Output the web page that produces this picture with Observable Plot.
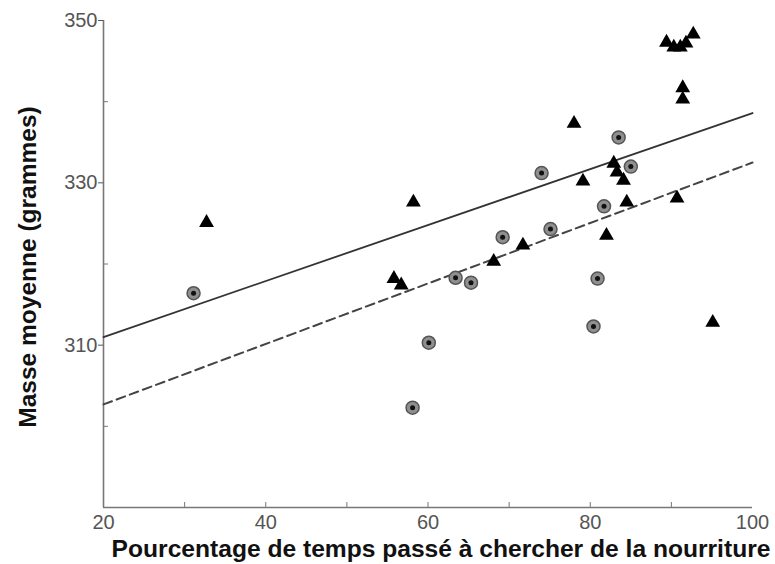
<!DOCTYPE html>
<html>
<head>
<meta charset="utf-8">
<script src="https://cdn.jsdelivr.net/npm/d3@7"></script>
<script src="https://cdn.jsdelivr.net/npm/@observablehq/plot@0.6"></script>
<style>
  html, body { margin: 0; padding: 0; background: #fff; }
</style>
</head>
<body>
<div id="chart"></div>
<script>
// Circles (bullseye markers)
const circleX = [31.1, 58.1, 60.1, 63.4, 65.3, 69.2, 74.0, 75.1, 80.4, 80.9, 81.7, 83.5, 85.0];
const circleY = [316.4, 302.3, 310.3, 318.3, 317.7, 323.3, 331.2, 324.3, 312.3, 318.2, 327.1, 335.6, 332.0];

// Triangles
const triX = [32.7, 58.2, 55.8, 56.7, 68.1, 71.7, 78.0, 79.1, 82.9, 83.3, 84.1, 84.5, 82.0, 90.7,
              89.4, 90.3, 91.1, 91.8, 92.7, 91.4, 91.4, 95.1];
const triY = [325.1, 327.6, 318.2, 317.4, 320.3, 322.3, 337.3, 330.2, 332.4, 331.3, 330.3, 327.6, 323.5, 328.1,
              347.3, 346.7, 346.7, 347.2, 348.3, 341.7, 340.3, 312.8];

// Regression lines
const lineX = [20, 100];
const solidY = [311.0, 338.6];
const dashedY = [302.7, 332.5];

// Axis ticks
const xTickLabels = [20, 40, 60, 80, 100];
const xMinorTicks = [30, 40, 50, 60, 70, 80, 90];
const yTickLabels = [310, 330, 350];
const yMinorTicks = [300, 320, 340];

const xLabel = "Pourcentage de temps passé à chercher de la nourriture";
const yLabel = "Masse moyenne (grammes)";

const circles = circleX.map((x, i) => ({x, y: circleY[i]}));
const triangles = triX.map((x, i) => ({x, y: triY[i]}));
const solid = lineX.map((x, i) => ({x, y: solidY[i]}));
const dashed = lineX.map((x, i) => ({x, y: dashedY[i]}));

const chart = Plot.plot({
  width: 775,
  height: 564,
  marginLeft: 103,
  marginRight: 23,
  marginTop: 20,
  marginBottom: 57,
  x: {domain: [20, 100]},
  y: {domain: [290, 350]},
  style: {fontFamily: "'Liberation Sans', Arial, Helvetica, sans-serif", background: "#fff"},
  marks: [
    Plot.ruleX([20], {stroke: "#777", strokeWidth: 1.6}),
    Plot.ruleY([290], {stroke: "#777", strokeWidth: 1.6}),
    Plot.axisX({ticks: xTickLabels, tickSize: 0, tickPadding: 7, fontSize: 20, color: "#555", label: null}),
    Plot.axisX({ticks: xMinorTicks, tickSize: -5, text: null, stroke: "#777", label: null}),
    Plot.axisY({ticks: yTickLabels, tickSize: 5, tickPadding: 1, fontSize: 20, color: "#555", label: null}),
    Plot.axisY({ticks: yMinorTicks, tickSize: -5, text: null, stroke: "#777", label: null}),
    Plot.line(solid, {x: "x", y: "y", stroke: "#333", strokeWidth: 1.8}),
    Plot.line(dashed, {x: "x", y: "y", stroke: "#444", strokeWidth: 2, strokeDasharray: "9,5"}),
    Plot.dot(circles, {x: "x", y: "y", r: 6.5, fill: "#8f8f8f", stroke: "#555", strokeWidth: 1.5}),
    Plot.dot(circles, {x: "x", y: "y", r: 2.5, fill: "#111"}),
    Plot.dot(triangles, {x: "x", y: "y", r: 5.5, symbol: "triangle", fill: "#000"}),
    Plot.text([xLabel], {frameAnchor: "bottom", textAnchor: "middle", lineAnchor: "middle", dx: 13, dy: 42, fontSize: 24.6, fontWeight: "bold", fill: "#111"}),
    Plot.text([yLabel], {frameAnchor: "left", textAnchor: "middle", lineAnchor: "middle", dx: -75, dy: 3, rotate: -90, fontSize: 24.5, fontWeight: "bold", fill: "#111"})
  ]
});
document.getElementById("chart").appendChild(chart);
</script>
</body>
</html>
